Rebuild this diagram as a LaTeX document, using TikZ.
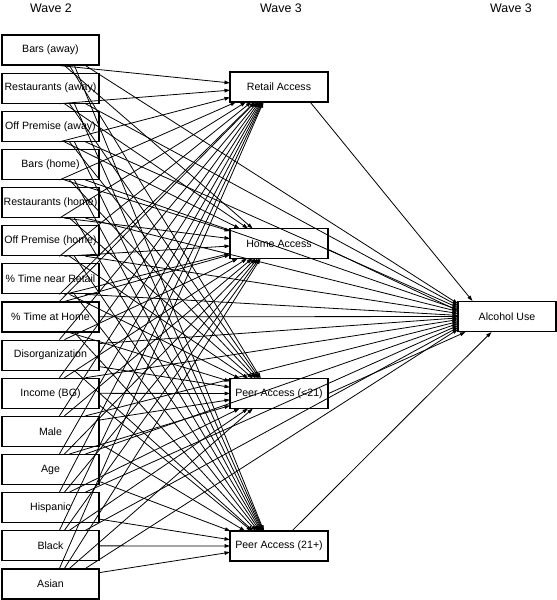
\documentclass[tikz,border=0pt]{standalone}
\usepackage{fontspec}
\setmainfont{Liberation Sans}
\usetikzlibrary{calc,arrows.meta}
\begin{document}
\begin{tikzpicture}[x=1pt,y=-1pt,
  box/.style={draw,line width=1.1pt,minimum width=97pt,minimum height=30pt,inner sep=0pt,font=\fontsize{10.6}{12}\selectfont},
  medbox/.style={box,minimum width=98pt},
  hub/.style={inner sep=0pt,outer sep=0pt,minimum height=30pt},
  edge/.style={-{Triangle[length=5.5pt,width=3.6pt]},line width=0.8pt},
  title/.style={font=\fontsize{12.4}{14}\selectfont}]
\useasboundingbox (0,0) rectangle (557,600);
\node[title] (t1) at (51,8) {Wave 2};
\node[title] (t2) at (281,8) {Wave 3};
\node[title] (t3) at (511,8) {Wave 3};
% left column
\foreach \i/\t in {0/{Bars (away)},1/{Restaurants (away)},2/{Off Premise (away)},3/{Bars (home)},4/{Restaurants (home)},5/{Off Premise (home)},6/{\% Time near Retail},7/{\% Time at Home},8/{Disorganization},9/{Income (BG)},10/{Male},11/{Age},12/{Hispanic},13/{Black},14/{Asian}}
  \node[box] (s\i) at (50.5,{50+38.14*\i}) {\t};
% mediators
\node[medbox] (m1) at (279,87) {Retail Access};
\node[medbox] (m2) at (279,243.5) {Home Access};
\node[medbox] (m3) at (279,393.5) {Peer Access (<21)};
\node[medbox] (m4) at (279,546) {Peer Access (21+)};
\node[medbox] (al) at (507,316.5) {Alcohol Use};
% invisible hubs sharing the left, top and bottom edges of the targets
\node[hub,minimum width=80pt] (h1) at (270,87) {};
\node[hub,minimum width=80pt] (h2) at (270,243.5) {};
\node[hub,minimum width=80pt] (h3) at (270,393.5) {};
\node[hub,minimum width=80pt] (h4) at (270,546) {};
\node[hub,minimum width=40pt] (h5) at (478,316.5) {};
% edges from the left column
\foreach \i in {0,...,14} {
  \foreach \k/\ty/\xo in {1/87/58,2/243.5/63,3/393.5/68,4/546/73,5/316.5/84} {
    \pgfmathsetmacro\cy{50+38.14*\i}
    \pgfmathsetmacro\dy{\ty-\cy}
    \pgfmathtruncatemacro\mode{\i<=6 ? 0 : (\i<=8 ? (abs(\dy)<=40 ? 2 : (\dy>0 ? 0 : 1)) : (\dy<-40 ? 1 : 2))}
    \pgfmathsetmacro\ro{max(-12,min(12,0.3*\dy))}
    \ifcase\mode
      \coordinate (st) at ($(s\i.south west)+(\xo,0)$);
    \or
      \coordinate (st) at ($(s\i.north west)+(\xo,0)$);
    \or
      \coordinate (st) at ($(s\i.east)+(0,\ro)$);
    \fi
    \draw[edge] (st) -- (h\k);
  }
}
% mediators to alcohol use
\draw[edge] ($(m1.south east)+(-18,0)$) -- ($(al.north west)+(15,0)$);
\draw[edge] ($(m2.east)+(0,6)$) -- ($(al.west)+(0,-6)$);
\draw[edge] ($(m3.east)+(0,0)$) -- ($(al.south west)+(8,0)$);
\draw[edge] ($(m4.north west)+(63,0)$) -- ($(al.south west)+(34,0)$);
\end{tikzpicture}
\end{document}
